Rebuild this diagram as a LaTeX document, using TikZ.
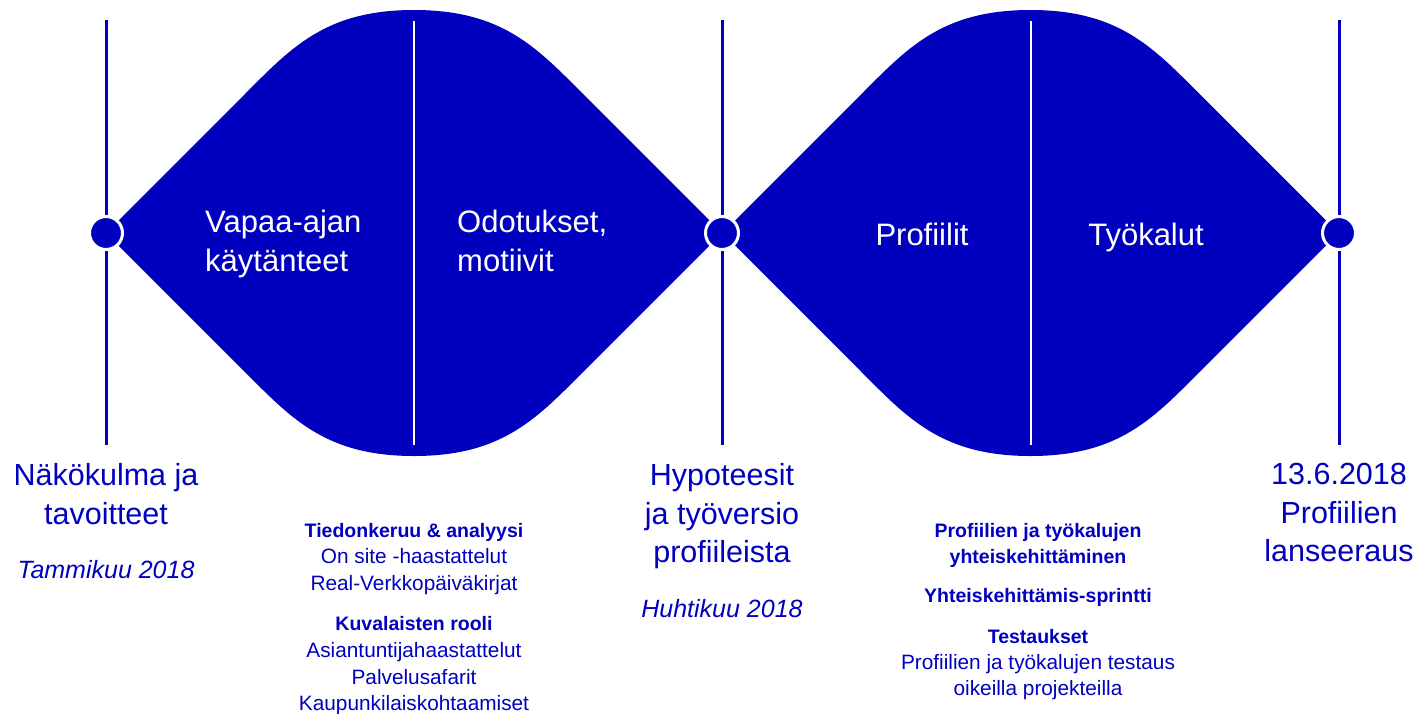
\documentclass[tikz,border=0pt]{standalone}
\usepackage{fontspec}
\setmainfont{Liberation Sans}
\definecolor{deepblue}{RGB}{0,0,190}
\begin{document}
\begin{tikzpicture}[x=1pt,y=-1pt,
  lens/.style={fill=deepblue,draw=none},
  divider/.style={white,line width=2pt},
  axis/.style={deepblue,line width=3pt},
  milestone/.style={circle,fill=deepblue,draw=white,line width=3pt,minimum size=33pt,inner sep=0pt},
  phase/.style={text=white,font=\fontsize{31}{31}\selectfont,inner sep=0pt},
  big/.style={text=deepblue,font=\fontsize{30.5}{30.5}\selectfont,inner sep=0pt,anchor=base},
  date/.style={text=deepblue,font=\fontsize{25}{25}\selectfont\itshape,inner sep=0pt,anchor=base},
  head/.style={text=deepblue,font=\fontsize{19.5}{19.5}\selectfont\bfseries,inner sep=0pt,anchor=base},
  item/.style={text=deepblue,font=\fontsize{20.8}{20.8}\selectfont,inner sep=0pt,anchor=base}]
\useasboundingbox (0,0) rectangle (1421,713);
% lenses
\foreach \cx in {414,1030.5}{
  \fill[lens] (\cx-308,233) -- (\cx-172,97)
    .. controls (\cx-124,49) and (\cx-90,10) .. (\cx,10)
    .. controls (\cx+90,10) and (\cx+124,49) .. (\cx+172,97)
    -- (\cx+308,233) -- (\cx+172,369)
    .. controls (\cx+124,417) and (\cx+90,456) .. (\cx,456)
    .. controls (\cx-90,456) and (\cx-124,417) .. (\cx-172,369) -- cycle;
  \draw[divider] (\cx,21) -- (\cx,445);
}
% axes and milestones
\coordinate (t1) at (106,20);  \coordinate (b1) at (106,445);
\coordinate (t2) at (722,20);  \coordinate (b2) at (722,445);
\coordinate (t3) at (1339,20); \coordinate (b3) at (1339,445);
\draw[axis] (t1) -- (b1);
\draw[axis] (t2) -- (b2);
\draw[axis] (t3) -- (b3);
\node[milestone] (m1) at (106,233) {};
\node[milestone] (m2) at (722,233) {};
\node[milestone] (m3) at (1339,233) {};
% phase labels
\node[phase,anchor=base west] (p1a) at (205,232) {Vapaa-ajan};
\node[phase,anchor=base west] (p1b) at (205,271) {käytänteet};
\node[phase,anchor=base west] (p2a) at (457,232) {Odotukset,};
\node[phase,anchor=base west] (p2b) at (457,271) {motiivit};
\node[phase,anchor=base] (p3) at (922,245) {Profiilit};
\node[phase,anchor=base] (p4) at (1146,245) {Työkalut};
% milestone labels
\node[big] (n1a) at (106,485) {Näkökulma ja};
\node[big] (n1b) at (106,524) {tavoitteet};
\node[date] (d1) at (106,578) {Tammikuu 2018};
\node[big] (n2a) at (722,485) {Hypoteesit};
\node[big] (n2b) at (722,524) {ja työversio};
\node[big] (n2c) at (722,562) {profiileista};
\node[date] (d2) at (722,617) {Huhtikuu 2018};
\node[big] (n3a) at (1339,484) {13.6.2018};
\node[big] (n3b) at (1339,523) {Profiilien};
\node[big] (n3c) at (1339,561) {lanseeraus};
% left activities
\node[head] (a1) at (414,537) {Tiedonkeruu \& analyysi};
\node[item] (a2) at (414,563) {On site -haastattelut};
\node[item] (a3) at (414,590) {Real-Verkkopäiväkirjat};
\node[head] (a4) at (414,630) {Kuvalaisten rooli};
\node[item] (a5) at (414,657) {Asiantuntijahaastattelut};
\node[item] (a6) at (414,684) {Palvelusafarit};
\node[item] (a7) at (414,710) {Kaupunkilaiskohtaamiset};
% right activities
\node[head] (r1) at (1038,537) {Profiilien ja työkalujen};
\node[head] (r2) at (1038,563) {yhteiskehittäminen};
\node[head] (r3) at (1038,602) {Yhteiskehittämis-sprintti};
\node[head] (r4) at (1038,643) {Testaukset};
\node[item] (r5) at (1038,669) {Profiilien ja työkalujen testaus};
\node[item] (r6) at (1038,695) {oikeilla projekteilla};
\end{tikzpicture}
\end{document}
